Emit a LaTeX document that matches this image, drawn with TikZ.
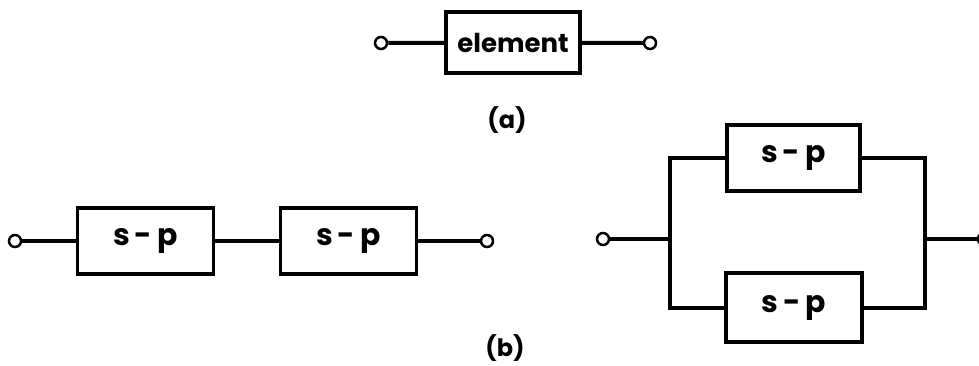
\documentclass[tikz,border=0pt]{standalone}
\usepackage{fontspec}
\setsansfont{Poppins}
\tikzset{
  blk/.style={draw, line width=3.5pt, inner sep=0pt, font=\sffamily\bfseries},
  term/.style={draw, circle, fill=white, line width=2.5pt, inner sep=0pt, minimum size=12pt},
  wire/.style={line width=4pt},
  lbl/.style={font=\sffamily\bfseries\fontsize{24}{24}\selectfont}
}
\begin{document}
\begin{tikzpicture}[x=1pt, y=-1pt]
\useasboundingbox (0,0) rectangle (979,365);
% (a) single element
\node[blk, minimum width=134pt, minimum height=61pt, font=\sffamily\bfseries\fontsize{26}{26}\selectfont] (el) at (513,42.5) {element};
\node[term] (a1) at (381,43) {};
\node[term] (a2) at (650,43) {};
\draw[wire] (a1) -- (el);
\draw[wire] (el) -- (a2);
\node[lbl] (capa) at (507,120) {(a)};
% (b) series
\tikzset{sp/.style={blk, minimum width=136pt, minimum height=66pt, font=\sffamily\bfseries\fontsize{30}{30}\selectfont}}
\node[term] (t1) at (15,241) {};
\node[sp] (s1) at (145.5,241) {s\,-\,p};
\node[sp] (s2) at (348.5,241) {s\,-\,p};
\node[term] (t2) at (487,241) {};
\draw[wire] (t1) -- (s1);
\draw[wire] (s1) -- (s2);
\draw[wire] (s2) -- (t2);
% (b) parallel
\coordinate (lj) at (670,239);
\coordinate (rj) at (925,239);
\node[term] (t3) at (603,239) {};
\node[term] (t4) at (984,239) {};
\node[sp, minimum width=133pt] (p1) at (793.5,158) {s\,-\,p};
\node[sp, minimum height=69pt] (p2) at (794,307.5) {s\,-\,p};
\draw[wire] (t3) -- (lj);
\draw[wire] (p1.west) -| (lj) |- (p2.west);
\draw[wire] (p1.east) -| (rj) |- (p2.east);
\draw[wire] (rj) -- (t4);
\node[lbl] (capb) at (505,348) {(b)};
\end{tikzpicture}
\end{document}
